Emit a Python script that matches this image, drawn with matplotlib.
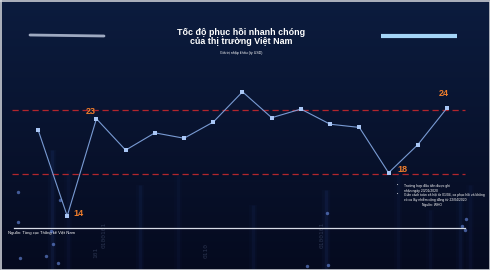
import numpy as np
import matplotlib.pyplot as plt

# chỉ số theo từng kỳ
periods = list(range(1, 16))
values = [22.0, 14.0, 23.0, 20.1, 21.7, 21.2, 22.7, 25.5, 23.1, 23.9, 22.5, 22.2, 18.0, 20.6, 24.0]
labelled = {2: "14", 3: "23", 13: "18", 15: "24"}
band_high = 23.8
band_low = 17.9

title = "Tốc độ phục hồi nhanh chóng\ncủa thị trường Việt Nam"
subtitle = "Giá trị nhập khẩu (tỷ USD)"
source = "Nguồn: Tổng cục Thống kê Việt Nam"
notes = [
    "Trường hợp đầu tiên được ghi\nnhận ngày 23/01/2020",
    "Giãn cách toàn xã hội từ 01/04, ca phục hồi và không\ncó ca lây nhiễm cộng đồng từ 22/04/2020",
]

W, H = 490, 270
fig = plt.figure(figsize=(4.9, 2.7), dpi=100)
plt.rcParams['font.family'] = ['Liberation Sans', 'DejaVu Sans']

# nền gradient xanh đậm
bg = fig.add_axes([0, 0, 1, 1])
bg.set_xlim(0, W)
bg.set_ylim(H, 0)
bg.axis('off')
grad = np.linspace(0, 1, 256)[:, None]
top = np.array([0.047, 0.110, 0.245])
bot = np.array([0.020, 0.040, 0.120])
img = top[None, None, :] * (1 - grad[..., None]) + bot[None, None, :] * grad[..., None]
img = np.repeat(img, 4, axis=1)
bg.imshow(img, extent=(0, W, H, 0), aspect='auto', zorder=0)

# vệt sáng dọc mờ phía dưới
streaks = [(52, 150, 0.10), (68, 170, 0.06), (140, 185, 0.08), (178, 175, 0.05),
           (253, 205, 0.07), (326, 190, 0.10), (398, 160, 0.05), (460, 200, 0.08),
           (470, 185, 0.06), (430, 210, 0.05)]
for x, y0, a in streaks:
    for w, aa in [(6, a * 0.4), (2.5, a)]:
        bg.plot([x, x], [y0, H], color='#3a5fc0', lw=w, alpha=aa, solid_capstyle='butt', zorder=1)

# chữ số nhị phân mờ
for x, y, s in [(104, 235, "0100101"), (206, 250, "0110"), (322, 235, "0100101"), (96, 252, "101")]:
    bg.text(x, y, s, rotation=90, color='#6f7fa5', alpha=0.35, fontsize=4.5,
            ha='center', va='center', family='DejaVu Sans Mono', zorder=1)

# đốm sáng
dots = [(18, 222), (20, 258), (51, 231), (46, 256), (53, 244), (58, 263), (466, 219),
        (462, 226), (465, 230), (327, 213), (307, 266), (328, 265), (60, 200), (18, 192)]
for x, y in dots:
    bg.scatter([x], [y], s=6, color='#6c8fe6', alpha=0.6, lw=0, zorder=2)

# thanh trang trí
bg.plot([30, 104], [35, 36], color='#b9c3d8', lw=2, alpha=0.85, solid_capstyle='round', zorder=3)
bg.plot([381, 457], [35.5, 35.5], color='#a5d5f7', lw=3, solid_capstyle='butt', zorder=3)

# tiêu đề
bg.text(241, 37, title, ha='center', va='center', color='white', fontsize=6.4,
        fontweight='bold', linespacing=1.1, zorder=4)
bg.text(241, 53, subtitle, ha='center', va='center', color='white', fontsize=2.6, zorder=4)

# đường kẻ nguồn
bg.plot([14, 465], [228, 228], color='#d6dbe6', lw=0.9, zorder=4)
bg.text(8, 233, source, ha='left', va='center', color='white', fontsize=3, zorder=4)

# ghi chú
ny = 184
for n in notes:
    bg.text(397, ny, "•", ha='left', va='top', color='white', fontsize=2.6, zorder=4)
    bg.text(404, ny, n, ha='left', va='top', color='white', fontsize=2.4, linespacing=1.2, zorder=4)
    ny += 9
bg.text(432, ny + 1, "Nguồn: WHO", ha='center', va='top', color='white', fontsize=2.4, zorder=4)

# khung viền
bg.plot([0.5, W - 0.5, W - 0.5, 0.5, 0.5], [0.5, 0.5, H - 0.5, H - 0.5, 0.5],
        color='#c9ccd3', lw=1.2, zorder=6)

# biểu đồ đường
ax = fig.add_axes([0, 0, 1, 1])
ax.patch.set_alpha(0)
ax.axis('off')
step = (447 - 38) / 14
ax.set_xlim(1 - 38 / step, 15 + (W - 447) / step)
ppu = 10.8
ax.set_ylim(14 - 54 / ppu, 14 + 216 / ppu)

xmin = ax.get_xlim()[0] + 12 / step
xmax = ax.get_xlim()[0] + 465 / step
for lvl in (band_high, band_low):
    ax.plot([xmin, xmax], [lvl, lvl], color='#b3262d', lw=0.9, ls=(0, (5, 3)), zorder=3)

ax.plot(periods, values, color='#7fa2dc', lw=0.8, alpha=0.95, zorder=4)
ax.scatter(periods, values, s=8, marker='s', color='#a9c6f5', lw=0, zorder=5)

offsets = {2: (0.4, 0.2), 3: (-0.2, 0.65), 13: (0.48, 0.3), 15: (-0.1, 1.3)}
for p, lab in labelled.items():
    dx, dy = offsets[p]
    ax.text(p + dx, values[p - 1] + dy, lab, color='#ee7d2c', fontsize=6.5,
            fontweight='bold', ha='center', va='center', zorder=6)

fig.savefig("out.png", dpi=100)
